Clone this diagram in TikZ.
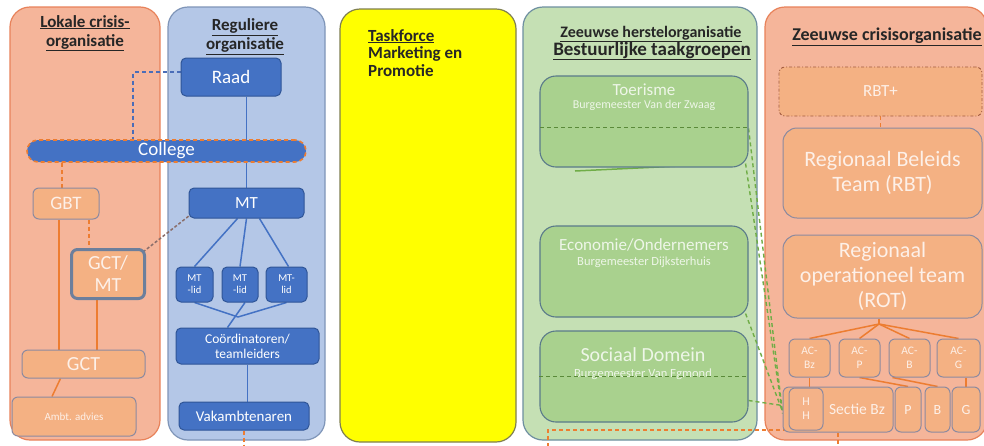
\documentclass[tikz,border=0pt]{standalone}
\usepackage{fontspec}
\setmainfont{Carlito}
\usetikzlibrary{calc}
\pgfdeclarelayer{panel}
\pgfdeclarelayer{edges}
\pgfsetlayers{panel,edges,main}
\definecolor{salmon}{HTML}{F5B59A}
\definecolor{salmonline}{HTML}{E8825A}
\definecolor{onode}{HTML}{F4B183}
\definecolor{onodeline}{HTML}{8C8AA0}
\definecolor{otext}{HTML}{FDF0E8}
\definecolor{bpanel}{HTML}{B4C7E7}
\definecolor{bpanelline}{HTML}{7F95B8}
\definecolor{bnode}{HTML}{4472C4}
\definecolor{bnodeline}{HTML}{2F5597}
\definecolor{ypanel}{HTML}{FFFF00}
\definecolor{ypanelline}{HTML}{7F7F50}
\definecolor{gpanel}{HTML}{C5E0B4}
\definecolor{gpanelline}{HTML}{6E8FA0}
\definecolor{gnode}{HTML}{A9D18E}
\definecolor{gnodeline}{HTML}{5A7A8A}
\definecolor{gtext}{HTML}{EEF6E8}
\definecolor{gdash}{HTML}{70AD47}
\definecolor{odash}{HTML}{ED7D31}
\definecolor{oline}{HTML}{ED7D31}
\definecolor{bdash}{HTML}{4A6DB8}
\definecolor{brdash}{HTML}{8A6E6A}
\tikzset{
  panelbox/.style={rounded corners=20pt, minimum width=#1, inner sep=0pt, minimum height=433pt, line width=1.2pt},
  opanel/.style={panelbox=#1, fill=salmon, draw=salmonline},
  bpanelbox/.style={panelbox=#1, fill=bpanel, draw=bpanelline},
  ypanelbox/.style={panelbox=#1, fill=ypanel, draw=ypanelline},
  gpanelbox/.style={panelbox=#1, fill=gpanel, draw=gpanelline},
  bbox/.style={fill=bnode, draw=bnodeline, line width=1pt, rounded corners=5pt, text=white, inner sep=0pt, align=center},
  obox/.style={fill=onode, draw=onodeline, line width=1pt, rounded corners=6pt, text=otext, inner sep=0pt, align=center},
  gbox/.style={fill=gnode, draw=gnodeline, line width=1.1pt, rounded corners=16pt, inner sep=0pt},
  gtitle/.style={text=gtext, inner sep=0pt, align=center},
  ptitle/.style={font=\bfseries, text=black!85, inner sep=0pt, align=center},
  bline/.style={draw=bnode, line width=1.5pt},
  oconn/.style={draw=oline, line width=1.5pt},
  odashed/.style={draw=odash, line width=1.5pt, dashed, dash pattern=on 4pt off 3pt},
  gdashed/.style={draw=gdash, line width=1.4pt, dashed, dash pattern=on 4pt off 3pt},
}
\begin{document}
\begin{tikzpicture}[x=1pt,y=-1pt]
\useasboundingbox (0,0) rectangle (984,445);
% panels
\begin{pgfonlayer}{panel}
\fill[white] (0,0) rectangle (984,445);
\node[opanel=150pt] (lok) at (85,223.5) {};
\node[bpanelbox=157pt] (reg) at (246.5,223.5) {};
\node[ypanelbox=176pt] (yel) at (428,225.5) {};
\node[gpanelbox=234pt] (grn) at (640,223.5) {};
\node[opanel=222pt] (zcr) at (876,223.5) {};
\end{pgfonlayer}
% titles
\node[ptitle, font=\bfseries\fontsize{17}{19}\selectfont] (t1) at (85,33) {\underline{Lokale crisis-}\\\underline{organisatie}};
\node[ptitle, font=\bfseries\fontsize{17}{19}\selectfont] (t2) at (245,36.5) {\underline{Reguliere}\\\underline{organisatie}};
\node[ptitle, font=\bfseries\fontsize{17}{17.5}\selectfont, align=left, anchor=north west] (t3) at (368,29) {\underline{Taskforce}\\Marketing en\\Promotie};
\node[ptitle, font=\bfseries\fontsize{16}{18}\selectfont] (t4a) at (651,34) {\underline{Zeeuwse herstelorganisatie}};
\node[ptitle, font=\bfseries\fontsize{19}{21}\selectfont] (t4b) at (652,51) {\underline{Bestuurlijke taakgroepen}};
\node[ptitle, font=\bfseries\fontsize{18}{20}\selectfont] (t5) at (887,37) {\underline{Zeeuwse crisisorganisatie}};
% regular organisation
\node[bbox, minimum width=100pt, minimum height=38pt, font=\fontsize{19}{21}\selectfont] (raad) at (231,77) {Raad};
\node[bbox, minimum width=279pt, minimum height=22pt, rounded corners=11pt, draw=odash, dashed, dash pattern=on 4pt off 3pt, line width=1.6pt, font=\fontsize{19}{21}\selectfont] (college) at (166.5,151) {College};
\node[bbox, minimum width=115pt, minimum height=30pt, font=\fontsize{17}{19}\selectfont] (mt) at (246.5,203) {MT};
\node[bbox, minimum width=37pt, minimum height=35pt, font=\fontsize{10.5}{12}\selectfont] (lid1) at (194.5,284.5) {MT\\-lid};
\node[bbox, minimum width=36pt, minimum height=35pt, font=\fontsize{10.5}{12}\selectfont] (lid2) at (240,284.5) {MT\\-lid};
\node[bbox, minimum width=41pt, minimum height=35pt, font=\fontsize{10.5}{12}\selectfont] (lid3) at (286.5,284.5) {MT-\\lid};
\node[bbox, minimum width=143pt, minimum height=36pt, font=\fontsize{13.5}{15}\selectfont] (coord) at (247.5,346) {Coördinatoren/\\teamleiders};
\node[bbox, minimum width=130pt, minimum height=28pt, font=\fontsize{15}{17}\selectfont] (vak) at (244,416) {Vakambtenaren};
% local crisis organisation
\node[obox, minimum width=66pt, minimum height=31pt, font=\fontsize{19}{21}\selectfont] (gbt) at (66,203.5) {GBT};
\node[obox, minimum width=73pt, minimum height=49pt, draw=bpanelline!85!black, line width=3pt, font=\fontsize{20}{22}\selectfont] (gctmt) at (108,274) {GCT/\\MT};
\node[obox, minimum width=123pt, minimum height=28pt, font=\fontsize{20}{22}\selectfont] (gct) at (83.5,364) {GCT};
\node[obox, minimum width=124pt, minimum height=39pt, font=\fontsize{11}{13}\selectfont] (ambt) at (74,416.5) {Ambt. advies};
% green
\node[gbox, minimum width=208pt, minimum height=91pt] (toer) at (644,121.5) {};
\node[gbox, minimum width=208pt, minimum height=91pt] (econ) at (644,271.5) {};
\node[gbox, minimum width=208pt, minimum height=91pt] (soc) at (644,376.5) {};
\node[gtitle, font=\fontsize{17}{19}\selectfont] (toert) at (644,90) {Toerisme};
\node[gtitle, font=\fontsize{12}{14}\selectfont] (toers) at (644,105) {Burgemeester Van der Zwaag};
\node[gtitle, font=\fontsize{17}{19}\selectfont] (econt) at (644,245) {Economie/Ondernemers};
\node[gtitle, font=\fontsize{12.5}{14}\selectfont] (econs) at (644,262) {Burgemeester Dijksterhuis};
\node[gtitle, font=\fontsize{20}{22}\selectfont] (soct) at (643,355) {Sociaal Domein};
\node[gtitle, font=\fontsize{12.5}{14}\selectfont] (socs) at (643,374) {Burgemeester Van Egmond};
% zeeuwse crisisorganisatie
\node[obox, minimum width=203pt, minimum height=49pt, draw=salmonline!70!black, dash pattern=on 3pt off 2pt on 1pt off 2pt, line width=0.9pt, font=\fontsize{17}{19}\selectfont] (rbtp) at (880.5,91.5) {RBT+};
\node[obox, minimum width=199pt, minimum height=90pt, rounded corners=14pt, font=\fontsize{22}{25}\selectfont] (rbt) at (882.5,173) {Regionaal Beleids\\Team (RBT)};
\node[obox, minimum width=199pt, minimum height=83pt, rounded corners=14pt, font=\fontsize{22}{25}\selectfont] (rot) at (882.5,276.5) {Regionaal\\operationeel team\\(ROT)};
\node[obox, minimum width=41pt, minimum height=38pt, font=\fontsize{11.5}{13.5}\selectfont] (acbz) at (809.5,358) {AC-\\Bz};
\node[obox, minimum width=41pt, minimum height=38pt, font=\fontsize{11.5}{13.5}\selectfont] (acp) at (859.5,358) {AC-\\P};
\node[obox, minimum width=41pt, minimum height=38pt, font=\fontsize{11.5}{13.5}\selectfont] (acb) at (909.5,358) {AC-\\B};
\node[obox, minimum width=43pt, minimum height=38pt, font=\fontsize{11.5}{13.5}\selectfont] (acg) at (958.5,358) {AC-\\G};
\node[obox, minimum width=110pt, minimum height=45pt, font=\fontsize{15.5}{17}\selectfont] (sectie) at (838,409.5) {\hspace*{38pt}Sectie Bz};
\node[obox, minimum width=34pt, minimum height=42pt, fill=onode!80!salmon, font=\fontsize{12}{14}\selectfont] (hh) at (806,409) {H\\H};
\node[obox, minimum width=26pt, minimum height=45pt, font=\fontsize{14}{16}\selectfont] (p) at (908,409.5) {P};
\node[obox, minimum width=25pt, minimum height=45pt, font=\fontsize{14}{16}\selectfont] (b) at (937.5,409.5) {B};
\node[obox, minimum width=28pt, minimum height=45pt, font=\fontsize{14}{16}\selectfont] (g) at (966,409.5) {G};
% coordinates
\coordinate (c1) at (133,140);
\coordinate (junc) at (238,317);
\coordinate (apex) at (879,324);
\coordinate (vakend) at (244,447);
\coordinate (botstart) at (548,447);
\coordinate (botcorner) at (548,430);
\coordinate (botend) at (786,430);
\coordinate (sectend) at (838,447);
\coordinate (gl1) at (575,171);
\coordinate (gl2) at (680,166);
% connectors
\begin{pgfonlayer}{edges}
\draw[bline] (raad.south -| mt.north) -- (mt.north);
\draw[bline] ([xshift=-9pt]mt.south) -- (lid1.north);
\draw[bline] (mt.south) -- (lid2.north);
\draw[bline] ([xshift=13pt]mt.south) -- ([xshift=2pt]lid3.north);
\draw[bline] (lid1.south) -- (junc);
\draw[bline] (lid3.south) -- (junc);
\draw[bline] ([xshift=5pt]lid2.south) -- ([xshift=-20pt]coord.north);
\draw[bline] (coord.south) -- (coord.south |- vak.north);
\draw[bdash, line width=1.5pt, dashed, dash pattern=on 4pt off 3pt] ([yshift=5pt]raad.west) -| (c1);
\draw[brdash, line width=1.5pt, dashed, dash pattern=on 3pt off 2pt] ([xshift=-3pt,yshift=-4pt]gctmt.north east) -- ([xshift=1pt,yshift=3pt]mt.south west);
\draw[odashed] ([xshift=-4pt]gbt.north) -- ([xshift=-4pt]gbt.north |- college.south);
\draw[odashed] ([xshift=23pt]gbt.south) -- ([xshift=23pt]gbt.south |- gctmt.north);
\draw[oconn] ([xshift=-7pt]gbt.south) -- ([xshift=-7pt]gbt.south |- gct.north);
\draw[oconn] ([xshift=-11pt]gctmt.south) -- ([xshift=-11pt]gctmt.south |- gct.north);
\draw[oconn] ([xshift=-23pt]gct.south) -- ([xshift=-22pt]ambt.north);
\draw[draw=gdash, line width=1.5pt] (gl1) -- (gl2);
\draw[gdashed] ([xshift=-3pt,yshift=4pt]toer.south east) -- ([yshift=-4pt]sectie.west);
\draw[gdashed] ([yshift=-7pt]toer.east) -- ([yshift=-3pt]sectie.west);
\draw[gdashed] ([xshift=-3pt,yshift=4pt]econ.south east) -- ([yshift=-2pt]sectie.west);
\draw[gdashed] ([yshift=-24pt]soc.east) -- ([yshift=4pt]sectie.west);
\draw[odashed] (vak.south) -- (vakend);
\draw[odashed] (botstart) -- (botcorner) -- (botend);
\draw[odashed] (sectie.south) -- (sectend);
\draw[odashed, line width=1pt] (rbtp.south) -- (rbtp.south |- rbt.north);
\draw[oconn] (rot.south -| apex) -- (apex);
\draw[oconn] (apex) -- (acbz.north);
\draw[oconn] (apex) -- (acp.north);
\draw[oconn] (apex) -- (acb.north);
\draw[oconn] (apex) -- (acg.north);
\draw[oconn] (acbz.south) -- (acbz.south |- sectie.north);
\draw[oconn] (g.north |- acg.south) -- (g.north);
\draw[oconn] (acp.south) -- (p.north);
\draw[oconn] ([xshift=-17pt]acb.south) -- (b.north);
\end{pgfonlayer}
\draw[gdashed, line width=1.1pt, draw=gdash!80!black] ([xshift=1pt,yshift=-6pt]toer.west) -- ([yshift=-6pt]toer.east);
\draw[gdashed, line width=0.9pt, draw=gdash!80!black] (soc.west) -- (soc.east);
\end{tikzpicture}
\end{document}
